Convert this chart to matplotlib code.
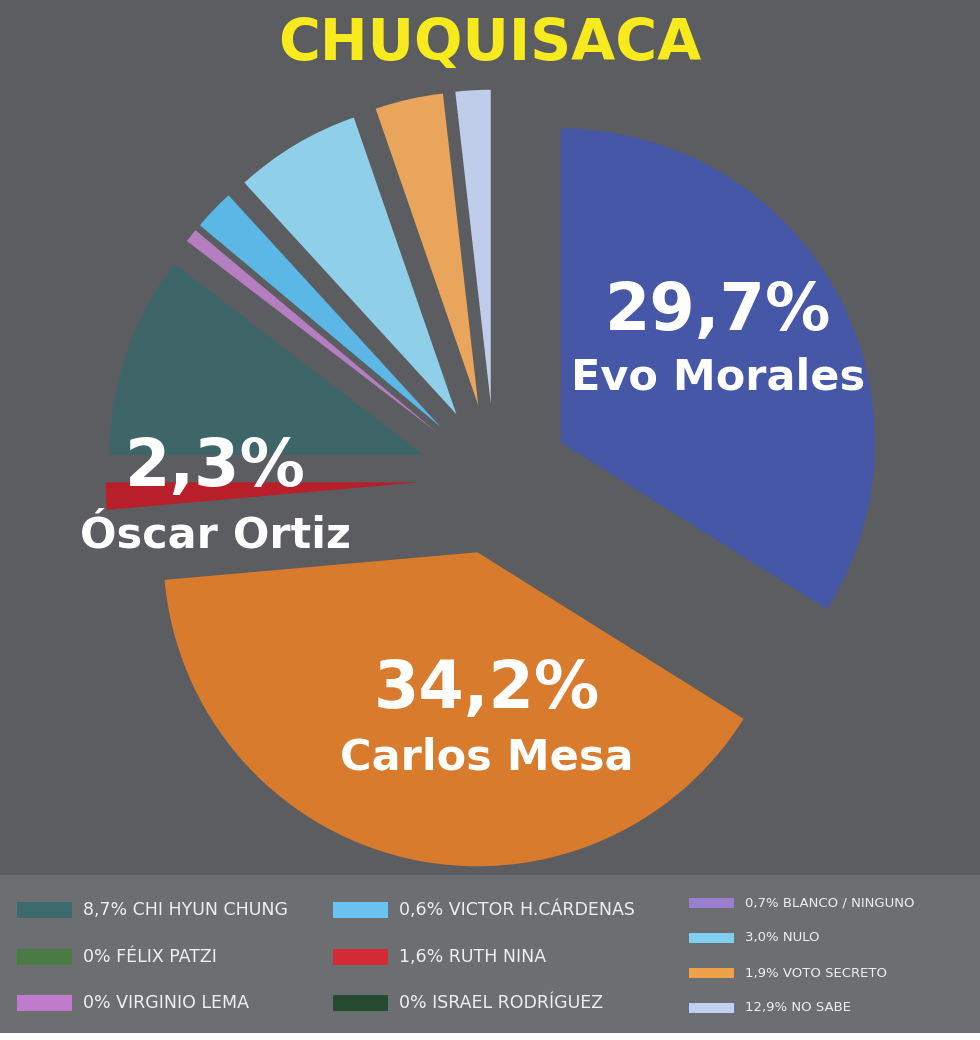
import matplotlib
matplotlib.use("Agg")
import matplotlib.pyplot as plt
from matplotlib import font_manager
from matplotlib.patches import Rectangle

W, H = 980, 1040

# pie slices as drawn in the graphic (share of the circle, %), clockwise from 12 o'clock
slice_names = ["Evo Morales", "Carlos Mesa", "Óscar Ortiz", "Chi Hyun Chung",
               "Blanco / Ninguno", "Victor H. Cárdenas", "Nulo", "Voto secreto", "No sabe"]
slice_shares = [33.9, 39.7, 1.4, 10.4, 0.7, 2.1, 6.5, 3.5, 1.8]
slice_colors = ["#4657a7", "#d97b2c", "#b91f2b", "#3e6668",
                "#b57ec1", "#5bb7e6", "#8fcfe9", "#e8a55b", "#c0cdea"]

# big labels printed on the pie
big_pct = ["29,7%", "34,2%", "2,3%"]
big_names = ["Evo Morales", "Carlos Mesa", "Óscar Ortiz"]

# legend
legend_left = ["8,7% CHI HYUN CHUNG", "0% FÉLIX PATZI", "0% VIRGINIO LEMA"]
legend_left_colors = ["#3d6a6d", "#4a7b45", "#c07ccc"]
legend_mid = ["0,6% VICTOR H.CÁRDENAS", "1,6% RUTH NINA", "0% ISRAEL RODRÍGUEZ"]
legend_mid_colors = ["#6cc3f0", "#d42a35", "#264a30"]
legend_right = ["0,7% BLANCO / NINGUNO", "3,0% NULO", "1,9% VOTO SECRETO", "12,9% NO SABE"]
legend_right_colors = ["#9b7fcf", "#7fd0ee", "#eda24a", "#bfd0f0"]

BG = "#5c5d60"
PANEL = "#6d6e71"

available = {f.name for f in font_manager.fontManager.ttflist}
if "Liberation Sans Narrow" in available:
    LEG_FONT, LEG_SIZE, LEG_SIZE_SMALL = "Liberation Sans Narrow", 16, 12
else:
    LEG_FONT, LEG_SIZE, LEG_SIZE_SMALL = "DejaVu Sans", 12.5, 9.5


def fx(x):
    return x / W


def fy(y):
    return 1 - y / H


fig = plt.figure(figsize=(W / 100, H / 100), dpi=100, facecolor=BG)
ax = fig.add_axes([0, 0, 1, 1])
ax.set_facecolor(BG)

# pie centre and radius in pixels of the picture
cx, cy, r = 495, 479, 314
ax.pie(slice_shares, colors=slice_colors, startangle=90, counterclock=False,
       explode=[0.24] * len(slice_shares), wedgeprops=dict(linewidth=0))
ax.set_xlim(-cx / r, (W - cx) / r)
ax.set_ylim(-(H - cy) / r, cy / r)
ax.set_aspect("equal")
ax.axis("off")

# title
fig.text(fx(490), fy(44), "CHUQUISACA", color="#f7ea1d", fontsize=41,
         fontweight="bold", ha="center", va="center", family="DejaVu Sans")

# labels on the pie
label_pos = [(718, 312, 378), (487, 690, 757), (215, 468, 535)]
for (x, y_pct, y_name), pct, name in zip(label_pos, big_pct, big_names):
    fig.text(fx(x), fy(y_pct), pct, color="white", fontsize=47, fontweight="bold",
             ha="center", va="center", family="DejaVu Sans")
    fig.text(fx(x), fy(y_name), name, color="white", fontsize=31, fontweight="bold",
             ha="center", va="center", family="DejaVu Sans")

# legend panel
fig.patches.append(Rectangle((0, fy(1033)), 1, fy(875) - fy(1033), transform=fig.transFigure,
                             facecolor=PANEL, edgecolor="none", zorder=0))
fig.patches.append(Rectangle((0, 0), 1, fy(1033), transform=fig.transFigure,
                             facecolor="white", edgecolor="none", zorder=0))


def legend_column(labels, colors, x0, sw_w, sw_h, rows, size):
    for label, color, y in zip(labels, colors, rows):
        fig.patches.append(Rectangle((fx(x0), fy(y + sw_h / 2)), sw_w / W, sw_h / H,
                                     transform=fig.transFigure, facecolor=color,
                                     edgecolor="none", zorder=1))
        fig.text(fx(x0 + sw_w + 11), fy(y), label, color="#f0f0f0", fontsize=size,
                 ha="left", va="center", family=LEG_FONT)


legend_column(legend_left, legend_left_colors, 17, 55, 16, [910, 957, 1003], LEG_SIZE)
legend_column(legend_mid, legend_mid_colors, 333, 55, 16, [910, 957, 1003], LEG_SIZE)
legend_column(legend_right, legend_right_colors, 689, 45, 10, [903, 938, 973, 1008], LEG_SIZE_SMALL)

fig.savefig("out.png", dpi=100, facecolor=BG)
